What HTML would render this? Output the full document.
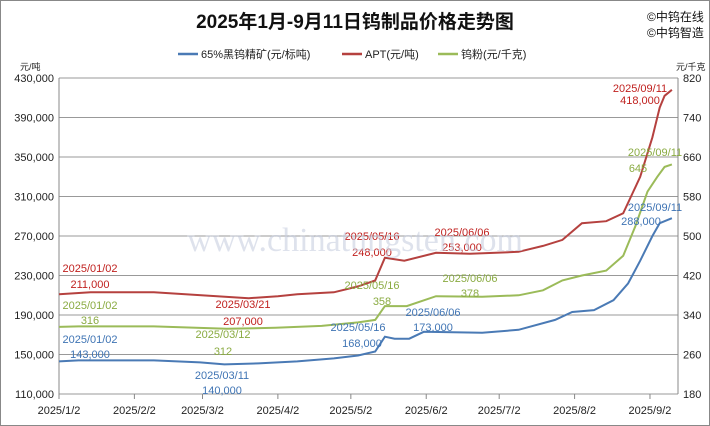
<!DOCTYPE html>
<html><head><meta charset="utf-8"><style>
body{margin:0;background:#fff}
svg{display:block;font-family:"Liberation Sans","Noto Sans CJK SC",sans-serif}
</style></head><body>
<svg id="s" width="710" height="426" viewBox="0 0 710 426">
<rect x="0.5" y="0.5" width="709" height="425" fill="#fff" stroke="#888"/>
<text x="355" y="28" text-anchor="middle" font-size="19" font-weight="bold" fill="#111">2025年1月-9月11日钨制品价格走势图</text>
<text x="647" y="21" font-size="12" fill="#111">©中钨在线</text>
<text x="647" y="37" font-size="12" fill="#111">©中钨智造</text>
<line x1="178" y1="54" x2="198" y2="54" stroke="#4a7ab5" stroke-width="2.5"/>
<text x="201" y="58" font-size="11" fill="#222">65%黑钨精矿(元/标吨)</text>
<line x1="342" y1="54" x2="362" y2="54" stroke="#b5413f" stroke-width="2.5"/>
<text x="365" y="58" font-size="11" fill="#222">APT(元/吨)</text>
<line x1="438" y1="54" x2="458" y2="54" stroke="#9bbb59" stroke-width="2.5"/>
<text x="461" y="58" font-size="11" fill="#222">钨粉(元/千克)</text>
<text x="20" y="70" font-size="9" fill="#222">元/吨</text>
<text x="676" y="70" font-size="9" fill="#222">元/千克</text>
<g id="g"></g>
<text x="355" y="251" text-anchor="middle" font-size="34" fill="#c9cfe0" opacity="0.6" font-family="Liberation Serif,serif">www.chinatungsten.com</text>
</svg>
<script>
var g=document.getElementById('g'),h='';
function X(d){return 59+d*2.432}
function YL(v){return 78+(430000-v)/320000*316}
function YR(v){return 78+(820-v)/640*316}
for(var i=0;i<9;i++){var v=430000-i*40000,y=YL(v);
h+='<line x1="59" y1="'+y+'" x2="678" y2="'+y+'" stroke="#999" stroke-width="1"/>';
h+='<text x="54" y="'+(y+4)+'" text-anchor="end" font-size="11" fill="#222">'+v.toLocaleString('en-US')+'</text>';
h+='<text x="683" y="'+(y+4)+'" font-size="11" fill="#222">'+(820-i*80)+'</text>';}
h+='<line x1="59" y1="78" x2="59" y2="394" stroke="#888"/><line x1="678" y1="78" x2="678" y2="394" stroke="#888"/>';
var md=[0,31,59,90,120,151,181,212,243],ml=['1/2','2/2','3/2','4/2','5/2','6/2','7/2','8/2','9/2'];
md.forEach(function(d,i){var x=X(d);h+='<line x1="'+x+'" y1="394" x2="'+x+'" y2="399" stroke="#888"/><text x="'+x+'" y="414" text-anchor="middle" font-size="11" fill="#222">2025/'+ml[i]+'</text>';});
function D(m,d){var c=[0,31,59,90,120,151,181,212,243];return c[m-1]+d-2;}
function line(pts,f,col){var s='';pts.forEach(function(p,i){s+=(i?'L':'M')+X(D(p[0],p[1])).toFixed(1)+','+f(p[2]).toFixed(1);});h+='<path d="'+s+'" fill="none" stroke="'+col+'" stroke-width="2"/>';}
line([[1,2,211000],[1,15,213000],[2,10,213000],[3,21,207000],[4,2,209000],[4,10,211000],[4,25,213000],[5,5,219000],[5,12,225000],[5,16,248000],[5,24,245000],[6,6,253000],[6,20,252000],[7,10,254000],[7,20,260000],[7,28,266000],[8,5,283000],[8,15,285000],[8,22,293000],[8,29,330000],[9,3,370000],[9,6,400000],[9,8,412000],[9,11,418000]],YL,'#b5413f');
line([[1,2,143000],[1,10,144000],[2,10,144000],[3,1,142000],[3,11,140000],[3,25,141000],[4,10,143000],[4,25,146000],[5,5,149000],[5,12,153000],[5,16,168000],[5,20,166000],[5,26,166000],[6,1,173000],[6,25,172000],[7,10,175000],[7,25,185000],[8,1,193000],[8,10,195000],[8,18,205000],[8,24,222000],[8,29,245000],[9,3,270000],[9,6,283000],[9,11,288000]],YL,'#4a7ab5');
line([[1,2,316],[1,10,317],[2,10,317],[3,12,312],[4,1,314],[4,20,318],[5,5,325],[5,12,330],[5,16,358],[5,25,358],[6,6,378],[6,25,377],[7,10,380],[7,20,390],[7,28,410],[8,5,420],[8,15,430],[8,22,460],[8,27,520],[9,1,590],[9,5,620],[9,8,640],[9,11,645]],YR,'#9bbb59');
function t(x,y,s,c){h+='<text x="'+x+'" y="'+y+'" text-anchor="middle" font-size="11" fill="'+c+'">'+s+'</text>';}
var R='#c0211f',B='#3f74b4',G='#8aab42';
t(90,272,'2025/01/02',R);t(90,288,'211,000',R);t(243,308,'2025/03/21',R);t(243,325,'207,000',R);
t(372,240,'2025/05/16',R);t(372,256,'248,000',R);t(462,236,'2025/06/06',R);t(462,251,'253,000',R);
t(640,92,'2025/09/11',R);t(640,104,'418,000',R);
t(90,309,'2025/01/02',G);t(90,324,'316',G);t(223,338,'2025/03/12',G);t(223,355,'312',G);
t(372,289,'2025/05/16',G);t(382,305,'358',G);t(470,282,'2025/06/06',G);t(470,297,'378',G);
t(655,156,'2025/09/11',G);t(638,172,'645',G);
t(90,343,'2025/01/02',B);t(90,358,'143,000',B);t(222,379,'2025/03/11',B);t(222,394,'140,000',B);
t(358,331,'2025/05/16',B);t(362,347,'168,000',B);t(433,316,'2025/06/06',B);t(433,331,'173,000',B);
t(655,211,'2025/09/11',B);t(641,225,'288,000',B);
g.innerHTML=h;
</script>
</body></html>
